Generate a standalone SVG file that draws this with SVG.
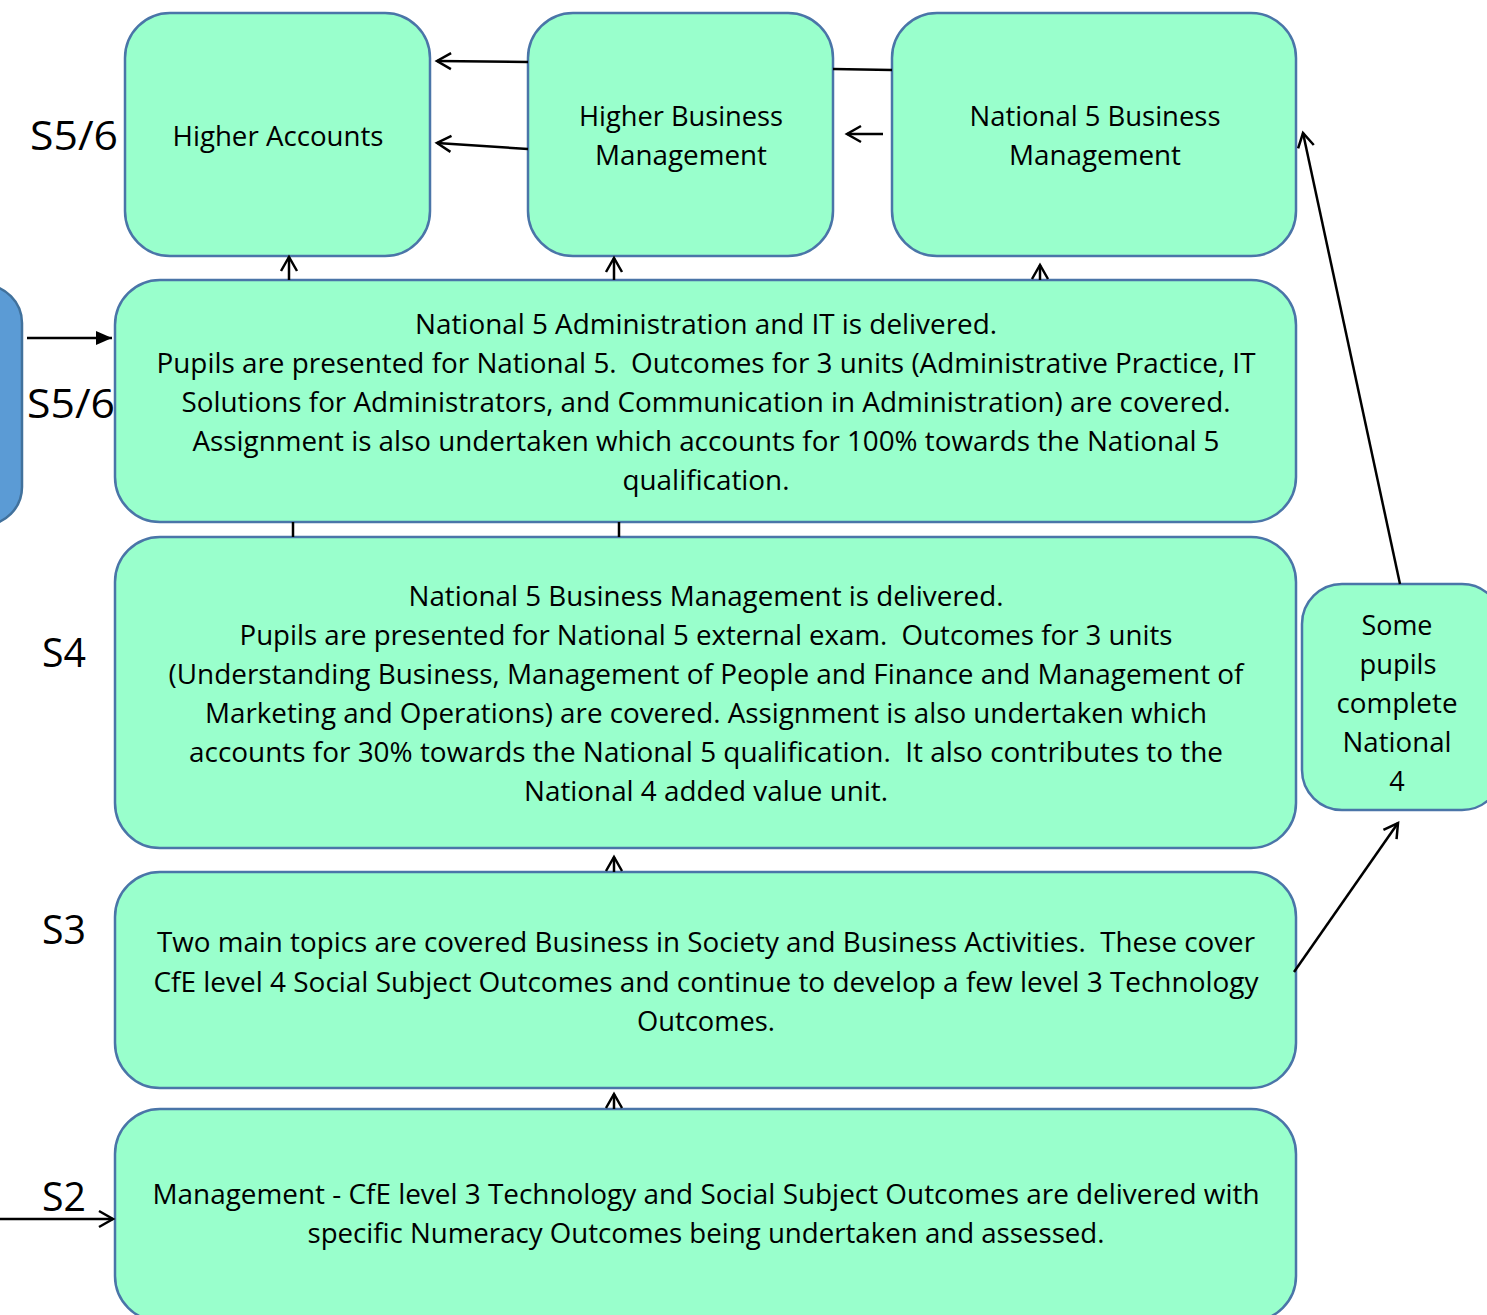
<svg xmlns="http://www.w3.org/2000/svg" width="1487" height="1315" viewBox="0 0 1487 1315" xml:space="preserve">
<defs>
<marker id="open" markerUnits="userSpaceOnUse" markerWidth="24" markerHeight="24" viewBox="0 0 24 24" refX="19" refY="12" orient="auto"><path d="M5,4 L19,12 L5,20" fill="none" stroke="#000" stroke-width="2.5"/></marker>
<marker id="solid" markerUnits="userSpaceOnUse" markerWidth="20" markerHeight="20" viewBox="0 0 20 20" refX="18" refY="10" orient="auto"><path d="M2,3 L18,10 L2,17 Z" fill="#000"/></marker>
<style>
.box{fill:#99FFCC;stroke:#4A75A8;stroke-width:2.5}
.blue{fill:#5B9BD5;stroke:#41719C;stroke-width:2.5}
.t{font-family:"Open Sans","Noto Sans",sans-serif;font-size:27px;fill:#000;text-anchor:middle;white-space:pre}
.lab{font-family:"Open Sans","Noto Sans",sans-serif;font-size:40px;fill:#000}
.c{stroke:#000;stroke-width:2.5;fill:none}
.a{marker-end:url(#open)}
</style>
</defs>
<g id="left-shape"><rect class="blue" x="-60" y="285" width="82" height="240" rx="38"/></g>
<g id="labels">
<text class="lab" x="30" y="150" textLength="88" lengthAdjust="spacingAndGlyphs">S5/6</text>
<text class="lab" x="27" y="418" textLength="88" lengthAdjust="spacingAndGlyphs">S5/6</text>
<text class="lab" x="42" y="667" textLength="44" lengthAdjust="spacingAndGlyphs">S4</text>
<text class="lab" x="42" y="944" textLength="44" lengthAdjust="spacingAndGlyphs">S3</text>
<text class="lab" x="42" y="1211" textLength="44" lengthAdjust="spacingAndGlyphs">S2</text>
</g>
<g id="higher-accounts"><rect class="box" x="125" y="13" width="305" height="243" rx="45"/>
<text class="t" x="278" y="146" textLength="211" lengthAdjust="spacingAndGlyphs">Higher Accounts</text></g>
<g id="higher-bm"><rect class="box" x="528" y="13" width="305" height="243" rx="45"/>
<text class="t" x="681" y="126" textLength="204" lengthAdjust="spacingAndGlyphs">Higher Business</text>
<text class="t" x="681" y="165" textLength="172" lengthAdjust="spacingAndGlyphs">Management</text></g>
<g id="n5-bm"><rect class="box" x="892" y="13" width="404" height="243" rx="45"/>
<text class="t" x="1095" y="126" textLength="251" lengthAdjust="spacingAndGlyphs">National 5 Business</text>
<text class="t" x="1095" y="165" textLength="172" lengthAdjust="spacingAndGlyphs">Management</text></g>
<g id="n5-admin"><rect class="box" x="115" y="280" width="1181" height="242" rx="45"/>
<text class="t" x="706" y="334" textLength="582" lengthAdjust="spacingAndGlyphs">National 5 Administration and IT is delivered.</text>
<text class="t" x="706" y="373" textLength="1099" lengthAdjust="spacingAndGlyphs">Pupils are presented for National 5.  Outcomes for 3 units (Administrative Practice, IT</text>
<text class="t" x="706" y="412" textLength="1049" lengthAdjust="spacingAndGlyphs">Solutions for Administrators, and Communication in Administration) are covered.</text>
<text class="t" x="706" y="451" textLength="1027" lengthAdjust="spacingAndGlyphs">Assignment is also undertaken which accounts for 100% towards the National 5</text>
<text class="t" x="706" y="490" textLength="167" lengthAdjust="spacingAndGlyphs">qualification.</text></g>
<g id="s4"><rect class="box" x="115" y="537" width="1181" height="311" rx="45"/>
<text class="t" x="706" y="606" textLength="595" lengthAdjust="spacingAndGlyphs">National 5 Business Management is delivered.</text>
<text class="t" x="706" y="645" textLength="933" lengthAdjust="spacingAndGlyphs">Pupils are presented for National 5 external exam.  Outcomes for 3 units</text>
<text class="t" x="706" y="684" textLength="1075" lengthAdjust="spacingAndGlyphs">(Understanding Business, Management of People and Finance and Management of</text>
<text class="t" x="706" y="723" textLength="1002" lengthAdjust="spacingAndGlyphs">Marketing and Operations) are covered. Assignment is also undertaken which</text>
<text class="t" x="706" y="762" textLength="1034" lengthAdjust="spacingAndGlyphs">accounts for 30% towards the National 5 qualification.  It also contributes to the</text>
<text class="t" x="706" y="801" textLength="364" lengthAdjust="spacingAndGlyphs">National 4 added value unit.</text></g>
<g id="s3"><rect class="box" x="115" y="872" width="1181" height="216" rx="45"/>
<text class="t" x="706" y="952" textLength="1098" lengthAdjust="spacingAndGlyphs">Two main topics are covered Business in Society and Business Activities.  These cover</text>
<text class="t" x="706" y="992" textLength="1105" lengthAdjust="spacingAndGlyphs">CfE level 4 Social Subject Outcomes and continue to develop a few level 3 Technology</text>
<text class="t" x="706" y="1031" textLength="138" lengthAdjust="spacingAndGlyphs">Outcomes.</text></g>
<g id="s2"><rect class="box" x="115" y="1109" width="1181" height="212" rx="45"/>
<text class="t" x="706" y="1204" textLength="1107" lengthAdjust="spacingAndGlyphs">Management - CfE level 3 Technology and Social Subject Outcomes are delivered with</text>
<text class="t" x="706" y="1243" textLength="797" lengthAdjust="spacingAndGlyphs">specific Numeracy Outcomes being undertaken and assessed.</text></g>
<g id="some-pupils"><rect class="box" x="1302" y="584" width="200" height="226" rx="40"/>
<text class="t" x="1397" y="635" textLength="71" lengthAdjust="spacingAndGlyphs">Some</text>
<text class="t" x="1398" y="674" textLength="77" lengthAdjust="spacingAndGlyphs">pupils</text>
<text class="t" x="1397" y="713" textLength="121" lengthAdjust="spacingAndGlyphs">complete</text>
<text class="t" x="1397" y="752" textLength="109" lengthAdjust="spacingAndGlyphs">National</text>
<text class="t" x="1397" y="791">4</text></g>
<g id="connectors">
<line class="c a" x1="528" y1="62" x2="437" y2="61"/>
<line class="c a" x1="528" y1="149" x2="437" y2="143"/>
<line class="c" x1="892" y1="70" x2="833" y2="69"/>
<line class="c a" x1="883" y1="134" x2="847" y2="134"/>
<line class="c a" x1="289" y1="280" x2="289" y2="257"/>
<line class="c a" x1="614" y1="280" x2="614" y2="258"/>
<line class="c a" x1="1040" y1="280" x2="1040" y2="265"/>
<line class="c" x1="293" y1="522" x2="293" y2="537"/>
<line class="c" x1="619" y1="522" x2="619" y2="537"/>
<line class="c a" x1="614" y1="872" x2="614" y2="857"/>
<line class="c a" x1="614" y1="1109" x2="614" y2="1094"/>
<line class="c a" x1="1400" y1="584" x2="1303" y2="133"/>
<line class="c a" x1="1294" y1="972" x2="1398" y2="823"/>
<line class="c" x1="27" y1="338" x2="112" y2="338" marker-end="url(#solid)"/>
<line class="c a" x1="0" y1="1219" x2="113" y2="1219"/>
</g>
</svg>
